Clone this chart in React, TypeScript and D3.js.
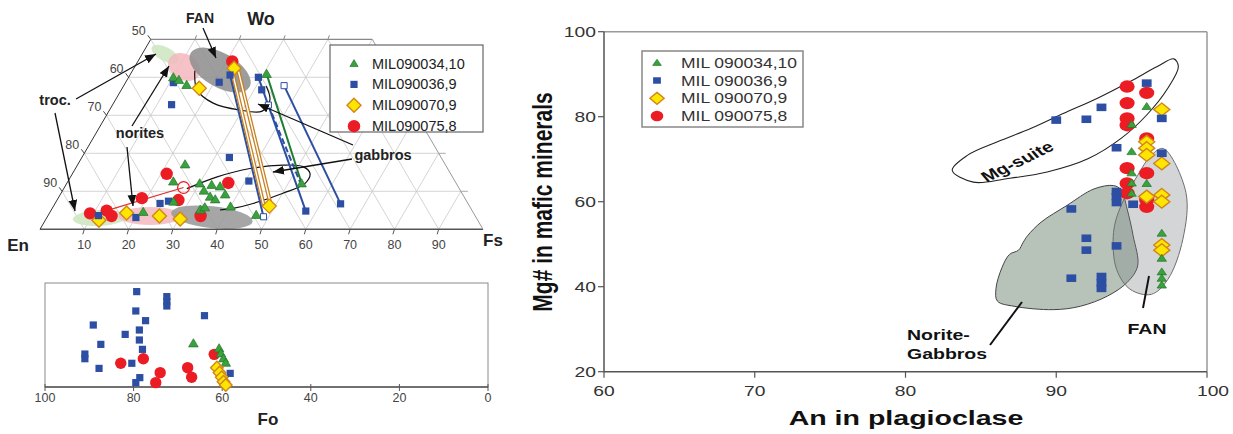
import React from 'react';
import * as d3 from 'd3';

const FONT = '"Liberation Sans", Arial, Helvetica, sans-serif';

const COL = {
  green: '#3aa23d', greenStroke: '#22742a',
  blue: '#2d4fa3',
  yellow: '#ffe600', yellowStroke: '#d0861a',
  red: '#ec1c24',
};

// legend names
const seriesLeft = ['MIL090034,10', 'MIL090036,9', 'MIL090070,9', 'MIL090075,8'];
const seriesRight = ['MIL 090034,10', 'MIL 090036,9', 'MIL 090070,9', 'MIL 090075,8'];
const seriesKind = ['tri', 'sq', 'dia', 'cir'];

// ---- pyroxene quadrilateral, points as [Wo, Fs]
const pxGreen = [[40.0, 10.1], [39.3, 11.7], [38.0, 14.1], [40.9, 30.7], [12.1, 53.0],
  [17.1, 24.2], [12.6, 23.8], [12.1, 30.0], [11.7, 32.9], [11.3, 35.0], [10.2, 31.9], [8.6, 34.1],
  [7.9, 35.6], [9.2, 37.2], [6.0, 40.0], [5.2, 33.6], [5.8, 34.3], [3.8, 46.9], [4.6, 21.0], [7.3, 26.5]];
const pxBlue = [[38.6, 10.8], [38.7, 21.1], [32.8, 13.3], [40.6, 22.6], [40.0, 29.3], [36.7, 31.7],
  [4.8, 57.6], [6.7, 64.5], [3.6, 11.4], [3.1, 20.1], [6.8, 23.7], [7.4, 25.3], [18.9, 33.3], [12.7, 40.8]];
const pxBlueOpen = [[3.3, 48.8], [32.7, 35.2], [37.8, 36.2]];
const pxYellow = [[37.1, 17.4], [42.4, 22.6], [2.4, 12.1], [4.3, 17.4], [3.5, 25.2], [2.7, 30.3], [6.1, 48.7]];
const pxRed = [[4.2, 9.2], [4.9, 12.6], [3.5, 14.4], [8.2, 18.9], [14.6, 21.3], [7.7, 27.4],
  [3.5, 34.5], [12.2, 36.4], [44.2, 21.3]];
const pxRedOpen = [[11.0, 26.9]];

// tie lines (high-Ca -> low-Ca pyroxene)
const tieBlue = [
  { from: [40.6, 22.6], to: [3.3, 48.8], dash: false },
  { from: [40.0, 29.3], to: [4.8, 57.6], dash: false },
  { from: [32.7, 35.2], to: [12.4, 52.5], dash: true },
  { from: [37.8, 36.2], to: [6.7, 64.5], dash: false },
];
const tieGreen = [{ from: [40.9, 30.7], to: [12.1, 53.0] }];
const tieYellow = [{ from: [43.0, 21.6], to: [6.1, 47.5] }, { from: [43.0, 23.0], to: [6.4, 48.9] }];
const tieRed = [{ from: [4.9, 12.6], to: [11.0, 26.9] }];

// lithology fields [Wo, Fs] centres
const pxFields = [
  { c: [46.1, 5.2], rx: 15, ry: 7, rot: 28, fill: '#cde6bf' },
  { c: [42.7, 11.2], rx: 17, ry: 13, rot: 30, fill: '#f3b9bf' },
  { c: [41.9, 19.7], rx: 34, ry: 17, rot: 30, fill: '#8f8f8f' },
  { c: [3.0, 12.0], rx: 27, ry: 8, rot: -3, fill: '#cde6bf' },
  { c: [3.5, 23.1], rx: 32, ry: 9, rot: 0, fill: '#f3b9bf' },
  { c: [3.2, 37.2], rx: 41, ry: 11, rot: 6, fill: '#9a9a9a' },
];
const gabbroUpper = [[41.7, 14.1], [36.7, 17.1], [33.2, 22.5], [31.4, 29.4], [31.1, 34.6], [34.0, 34.9], [37.7, 32.2]];
const gabbroLower = [[10.7, 27.8], [13.8, 33.1], [16.0, 39.4], [16.9, 46.4], [16.5, 51.1], [14.7, 53.6],
  [12.1, 53.8], [9.5, 50.1], [6.8, 44.7], [5.5, 40.8], [5.1, 38.1]];

const woLevels = [10, 20, 30, 40];
const fsTicks = [10, 20, 30, 40, 50, 60, 70, 80, 90];
const leftTickLabels = [50, 60, 70, 80, 90];

// ---- olivine, [Fo, n]
const olBlue = [[79.3, 91.7], [72.5, 86.9], [72.5, 82.1], [72.5, 77.9], [79.5, 73.1], [64.0, 68.6], [77.3, 63.8],
  [89.1, 59.6], [78.7, 54.8], [81.9, 50.6], [78.7, 45.2], [87.4, 41.0], [78.0, 36.2], [91.0, 31.7], [91.0, 27.2],
  [87.8, 17.9], [80.4, 22.8], [78.6, 9.0], [79.5, 4.2], [58.2, 13.1]];
const olRed = [[82.9, 22.8], [77.8, 27.2], [74.0, 13.8], [75.0, 4.2], [67.8, 18.6], [66.9, 9.3], [61.8, 31.4]];
const olGreen = [[66.5, 42.0], [60.7, 37.2], [60.3, 32.4], [59.7, 27.6], [59.2, 23.4]];
const olYellow = [[61.2, 18.6], [60.6, 13.8], [60.1, 9.3], [59.7, 5.1], [59.2, 1.9]];
const foTicks = [100, 80, 60, 40, 20, 0];

// ---- An vs Mg#
const anBlue = [[90.0, 79.2], [92.0, 79.4], [93.0, 82.2], [96.0, 87.9], [97.0, 79.6], [94.0, 72.7], [97.0, 71.4],
  [94.0, 62.4], [94.0, 61.2], [94.0, 59.8], [95.1, 59.4], [91.0, 58.3], [92.0, 51.4], [92.0, 48.6], [94.0, 49.6],
  [91.0, 42.0], [93.0, 42.4], [93.0, 40.9], [93.0, 39.6]];
const anRed = [[94.7, 87.1], [94.7, 83.2], [94.7, 79.6], [94.7, 78.0], [94.7, 67.9], [94.7, 64.3], [94.7, 62.0],
  [96.0, 85.6], [96.0, 74.9], [96.0, 66.7], [96.0, 60.4], [96.0, 58.8]];
const anYellow = [[97.0, 81.7], [97.0, 69.0], [97.0, 61.6], [97.0, 60.0], [97.0, 49.8], [97.0, 48.6],
  [96.0, 74.1], [96.0, 72.6], [96.0, 71.0], [96.0, 61.2]];
const anGreen = [[96.0, 82.4], [96.0, 64.3], [95.0, 78.2], [95.0, 71.8], [95.0, 66.8], [95.0, 64.4], [95.0, 62.0],
  [97.0, 52.6], [97.0, 46.7], [97.0, 43.5], [97.0, 42.0], [97.0, 40.4]];
const mgSuite = [[83.1, 67.4], [84.1, 70.9], [86.1, 74.1], [88.3, 77.2], [90.5, 80.8], [92.7, 84.3], [94.9, 88.3],
  [96.7, 91.8], [97.8, 93.6], [98.1, 91.8], [97.4, 86.7], [96.0, 80.4], [94.3, 74.9], [92.1, 70.1], [89.4, 67.0],
  [86.7, 65.4], [84.5, 64.6]];
const noriteGabbro = [[93.8, 63.8], [92.5, 63.0], [90.7, 59.1], [89.0, 55.2], [88.1, 52.0], [87.8, 50.4], [87.5, 48.6],
  [86.9, 47.6], [86.4, 44.5], [86.0, 39.5], [86.1, 36.6], [87.2, 35.4], [89.8, 34.6], [91.6, 35.4], [93.4, 37.8],
  [94.7, 41.0], [95.4, 44.9], [95.1, 52.0], [94.7, 58.3], [94.3, 62.8]];
const fanField = [[97.1, 72.5], [98.6, 62.2], [98.4, 51.2], [97.4, 41.7], [96.3, 38.2], [94.9, 39.4], [94.0, 44.1],
  [93.8, 52.8], [94.3, 59.1], [95.4, 66.2], [96.3, 70.9]];
const anTicks = [60, 70, 80, 90, 100];
const mgTicks = [20, 40, 60, 80, 100];

// ---------- helpers
function Marker({ kind, x, y, s = 1, sx = 1, open = false }) {
  const t = `translate(${x},${y}) scale(${s * sx},${s})`;
  const ve = 'non-scaling-stroke';
  if (kind === 'tri') return <path transform={t} d="M0,-4.6L4.8,3.6L-4.8,3.6Z" fill={COL.green} stroke={COL.greenStroke} strokeWidth={0.7} vectorEffect={ve} />;
  if (kind === 'sq') return <rect transform={t} x={-3.6} y={-3.6} width={7.2} height={7.2} fill={open ? '#fff' : COL.blue} stroke={COL.blue} strokeWidth={open ? 1 : 0} vectorEffect={ve} />;
  if (kind === 'dia') return <path transform={t} d="M0,-7L7,0L0,7L-7,0Z" fill={COL.yellow} stroke={COL.yellowStroke} strokeWidth={1.4} vectorEffect={ve} />;
  return <circle transform={t} r={6.2} fill={open ? 'none' : COL.red} stroke={COL.red} strokeWidth={open ? 1.3 : 0} vectorEffect={ve} />;
}

function Txt({ x, y, sx = 1, rot = 0, size = 14, weight = 'normal', anchor = 'start', fill = '#222', children }) {
  return (
    <text transform={`translate(${x},${y}) scale(${sx},1)${rot ? ` rotate(${rot})` : ''}`}
      fontFamily={FONT} fontSize={size} fontWeight={weight} textAnchor={anchor} fill={fill}>{children}</text>
  );
}

// ternary projection
const tX = d3.scaleLinear().domain([0, 100]).range([40, 483]);
const tY = d3.scaleLinear().domain([0, 50]).range([229.3, 39.3]);
const tern = (wo, fs) => [tX(fs + wo / 2), tY(wo)];

// olivine
const oX = d3.scaleLinear().domain([100, 0]).range([45, 488]);
const oY = d3.scaleLinear().domain([0, 100]).range([387, 283]);

// An / Mg#
const aX = d3.scaleLinear().domain([60, 100]).range([604, 1207]);
const aY = d3.scaleLinear().domain([20, 100]).range([371.7, 31.7]);
const RS = 1.33; // horizontal stretch of the right panel

const Arrow = ({ x1, y1, x2, y2 }) => (
  <line x1={x1} y1={y1} x2={x2} y2={y2} stroke="#111" strokeWidth={1.3} markerEnd="url(#arr)" />
);

function Ternary() {
  const seg = (a, b, k, st) => {
    const [x1, y1] = tern(a[0], a[1]);
    const [x2, y2] = tern(b[0], b[1]);
    return <line key={k} x1={x1} y1={y1} x2={x2} y2={y2} {...st} />;
  };
  const grid = [];
  woLevels.forEach(w => grid.push(seg([w, 0], [w, 100 - w], 'w' + w, {})));
  fsTicks.forEach(f => grid.push(seg([0, f], [Math.min(50, 100 - f), f], 'f' + f, {})));
  fsTicks.forEach(e => {
    const wEnd = Math.min(50, 100 - e);
    grid.push(seg([0, 100 - e], [wEnd, 100 - e - wEnd], 'e' + e, {}));
  });
  const curve = d3.line().x(d => tern(d[0], d[1])[0]).y(d => tern(d[0], d[1])[1]).curve(d3.curveCatmullRom.alpha(0.5));

  const tieLine = (t, k, color, extra = {}) => seg(t.from, t.to, k, { stroke: color, strokeWidth: 2, ...extra });

  return (
    <g>
      <g stroke="#c9c9c9" strokeWidth={0.8}>{grid}</g>
      {pxFields.map((f, i) => {
        const [x, y] = tern(f.c[0], f.c[1]);
        return <ellipse key={i} cx={x} cy={y} rx={f.rx} ry={f.ry} transform={`rotate(${f.rot},${x},${y})`} fill={f.fill} opacity={0.88} />;
      })}
      {/* frame */}
      {seg([0, 0], [0, 100], 'b', { stroke: '#555', strokeWidth: 1.6 })}
      {seg([0, 0], [50, 0], 'l', { stroke: '#333', strokeWidth: 1 })}
      {seg([50, 0], [50, 50], 't', { stroke: '#888', strokeWidth: 1.2 })}
      {seg([0, 100], [50, 50], 'r', { stroke: '#999', strokeWidth: 1 })}
      {/* ticks */}
      {fsTicks.map(f => { const [x, y] = tern(0, f); return <line key={'bt' + f} x1={x} y1={y} x2={x - 1.5} y2={y + 5} stroke="#555" />; })}
      {[10, 20, 30, 40, 50].map(w => { const [x, y] = tern(w, 0); return <line key={'lt' + w} x1={x} y1={y} x2={x - 3} y2={y - 4} stroke="#444" />; })}
      {woLevels.map(w => { const [x, y] = tern(w, 100 - w); return <line key={'rt' + w} x1={x} y1={y} x2={x + 7} y2={y} stroke="#aaa" />; })}
      {[10, 20, 30, 40].map(f => { const [x, y] = tern(50, f); return <line key={'tt' + f} x1={x} y1={y} x2={x + 1.5} y2={y - 4} stroke="#888" />; })}

      <path d={curve(gabbroUpper)} fill="none" stroke="#111" strokeWidth={1.2} />
      <path d={curve(gabbroLower)} fill="none" stroke="#111" strokeWidth={1.2} />

      {tieBlue.map((t, i) => tieLine(t, 'tb' + i, COL.blue, t.dash ? { strokeDasharray: '6,3' } : {}))}
      {tieGreen.map((t, i) => tieLine(t, 'tg' + i, '#1f7d32'))}
      {tieYellow.map((t, i) => tieLine(t, 'ty' + i, '#c8811e', { strokeWidth: 4 }))}
      {tieYellow.map((t, i) => tieLine(t, 'tyw' + i, '#fff', { strokeWidth: 1.4 }))}
      {tieRed.map((t, i) => tieLine(t, 'tr' + i, '#e03030', { strokeWidth: 1.2 }))}

      {pxRed.map((d, i) => { const [x, y] = tern(d[0], d[1]); return <Marker key={'r' + i} kind="cir" x={x} y={y} />; })}
      {pxRedOpen.map((d, i) => { const [x, y] = tern(d[0], d[1]); return <Marker key={'ro' + i} kind="cir" x={x} y={y} open s={0.95} />; })}
      {pxYellow.map((d, i) => { const [x, y] = tern(d[0], d[1]); return <Marker key={'y' + i} kind="dia" x={x} y={y} />; })}
      {pxBlue.map((d, i) => { const [x, y] = tern(d[0], d[1]); return <Marker key={'b' + i} kind="sq" x={x} y={y} />; })}
      {pxBlueOpen.map((d, i) => { const [x, y] = tern(d[0], d[1]); return <Marker key={'bo' + i} kind="sq" x={x} y={y} open s={0.85} />; })}
      {pxGreen.map((d, i) => { const [x, y] = tern(d[0], d[1]); return <Marker key={'g' + i} kind="tri" x={x} y={y} />; })}

      {/* axis labels */}
      {leftTickLabels.map(v => { const [x, y] = tern(100 - v, 0); return <Txt key={'ll' + v} x={x - 12} y={y - 4} size={12.5} anchor="middle" fill="#444">{v}</Txt>; })}
      {fsTicks.map(f => { const [x, y] = tern(0, f); return <Txt key={'bl' + f} x={x} y={y + 20} size={12.5} anchor="middle" fill="#444">{f}</Txt>; })}
      <Txt x={18} y={251} size={17} weight="bold" anchor="middle">En</Txt>
      <Txt x={493} y={246} size={17} weight="bold" anchor="middle">Fs</Txt>
      <Txt x={261} y={25} size={18} weight="bold" anchor="middle">Wo</Txt>
      <Txt x={200} y={23} size={14} weight="bold" anchor="middle">FAN</Txt>
      <Txt x={55} y={105} size={14.5} weight="bold" anchor="middle">troc.</Txt>
      <Txt x={140} y={138} size={14.5} weight="bold" anchor="middle">norites</Txt>
      <Txt x={383} y={160} size={14.5} weight="bold" anchor="middle">gabbros</Txt>

      <Arrow x1={203} y1={28} x2={216} y2={58} />
      <Arrow x1={76} y1={99} x2={156} y2={54} />
      <Arrow x1={55} y1={113} x2={75} y2={211} />
      <Arrow x1={132} y1={126} x2={169} y2={66} />
      <Arrow x1={127} y1={147} x2={133} y2={206} />
      <Arrow x1={353} y1={145} x2={258} y2={104} />
      <Arrow x1={352} y1={159} x2={273} y2={172} />

      {/* legend */}
      <rect x={330} y={45} width={153} height={87} fill="#fff" stroke="#666" strokeWidth={1.2} />
      {seriesLeft.map((s, i) => (
        <g key={s}>
          <Marker kind={seriesKind[i]} x={354} y={63.5 + i * 20.9} s={seriesKind[i] === 'tri' ? 0.85 : 1} />
          <Txt x={372} y={68.5 + i * 20.9} size={14.5} fill="#222">{s}</Txt>
        </g>
      ))}
    </g>
  );
}

function Olivine() {
  return (
    <g>
      <rect x={45} y={283} width={443} height={104} fill="#fff" stroke="#8a8a8a" strokeWidth={1} />
      <line x1={45} x2={488} y1={387} y2={387} stroke="#555" strokeWidth={1.5} />
      {foTicks.map(t => (
        <g key={t}>
          <line x1={oX(t)} x2={oX(t)} y1={384} y2={391} stroke="#555" />
          <Txt x={oX(t)} y={402} size={12.5} anchor="middle" fill="#444">{t}</Txt>
        </g>
      ))}
      <Txt x={268} y={425} size={17} weight="bold" anchor="middle">Fo</Txt>
      {olBlue.map((d, i) => <Marker key={'b' + i} kind="sq" x={oX(d[0])} y={oY(d[1])} />)}
      {olRed.map((d, i) => <Marker key={'r' + i} kind="cir" x={oX(d[0])} y={oY(d[1])} s={0.92} />)}
      {olGreen.map((d, i) => <Marker key={'g' + i} kind="tri" x={oX(d[0])} y={oY(d[1])} />)}
      {olYellow.map((d, i) => <Marker key={'y' + i} kind="dia" x={oX(d[0])} y={oY(d[1])} s={0.9} />)}
    </g>
  );
}

function AnMg() {
  const area = d3.line().x(d => aX(d[0])).y(d => aY(d[1])).curve(d3.curveCatmullRomClosed.alpha(0.5));
  const [l, r] = aX.range();
  const [b, t] = aY.range();
  return (
    <g>
      <line x1={l} x2={r} y1={t} y2={t} stroke="#999" strokeWidth={1.5} />
      <line x1={r} x2={r} y1={t} y2={b} stroke="#999" strokeWidth={1.5} />
      <path d={area(noriteGabbro)} fill="#b7c3b9" stroke="#444" strokeWidth={1} />
      <path d={area(fanField)} fill="rgb(125,128,132)" fillOpacity={0.33} stroke="#6e6e6e" strokeWidth={1} />
      <path d={area(mgSuite)} fill="none" stroke="#222" strokeWidth={1.1} />
      <line x1={l} x2={l} y1={t} y2={b} stroke="#555" strokeWidth={1.5} />
      <line x1={l} x2={r} y1={b} y2={b} stroke="#555" strokeWidth={1.5} />
      {mgTicks.map(v => (
        <g key={'y' + v}>
          <line x1={l - 6} x2={l} y1={aY(v)} y2={aY(v)} stroke="#555" strokeWidth={1.2} />
          <Txt x={596} y={aY(v) + 5} sx={RS} size={14.5} anchor="end" fill="#333">{v}</Txt>
        </g>
      ))}
      {anTicks.map(v => (
        <g key={'x' + v}>
          <line x1={aX(v)} x2={aX(v)} y1={b} y2={b + 6} stroke="#555" strokeWidth={1.2} />
          <Txt x={aX(v) + (v === 100 ? 6 : 0)} y={396} sx={RS} size={14.5} anchor="middle" fill="#333">{v}</Txt>
        </g>
      ))}
      <Txt x={906} y={425} sx={1.36} size={21} weight="bold" anchor="middle" fill="#111">An in plagioclase</Txt>
      <Txt x={552} y={202} sx={1.3} rot={-90} size={21} weight="bold" anchor="middle" fill="#111">Mg# in mafic minerals</Txt>

      {anRed.map((d, i) => <Marker key={'r' + i} kind="cir" x={aX(d[0])} y={aY(d[1])} sx={1.22} />)}
      {anYellow.map((d, i) => <Marker key={'yy' + i} kind="dia" x={aX(d[0])} y={aY(d[1])} sx={1.25} s={0.92} />)}
      {anBlue.map((d, i) => <Marker key={'b' + i} kind="sq" x={aX(d[0])} y={aY(d[1])} sx={1.3} s={1.05} />)}
      {anGreen.map((d, i) => <Marker key={'g' + i} kind="tri" x={aX(d[0])} y={aY(d[1])} sx={1.15} s={0.85} />)}

      <Txt x={1021} y={166} sx={RS} rot={-33} size={15} weight="bold" anchor="middle" fill="#111">Mg-suite</Txt>
      <Txt x={907} y={340} sx={1.3} size={15} weight="bold" fill="#111">Norite-</Txt>
      <Txt x={907} y={359} sx={1.3} size={15} weight="bold" fill="#111">Gabbros</Txt>
      <Txt x={1147} y={334} sx={1.3} size={15} weight="bold" anchor="middle" fill="#111">FAN</Txt>
      <line x1={990} y1={345} x2={1022} y2={302} stroke="#111" strokeWidth={2} />
      <line x1={1143} y1={308} x2={1149} y2={276} stroke="#111" strokeWidth={2} />

      <rect x={642} y={51} width={161} height={76} fill="#fff" stroke="#888" strokeWidth={1.5} />
      {seriesRight.map((s, i) => (
        <g key={s}>
          <Marker kind={seriesKind[i]} x={657} y={62.7 + i * 17.8} sx={1.2} s={seriesKind[i] === 'tri' ? 0.75 : seriesKind[i] === 'sq' ? 0.9 : 0.85} />
          <Txt x={681} y={67.7 + i * 17.8} sx={1.25} size={14} fill="#333">{s}</Txt>
        </g>
      ))}
    </g>
  );
}

export default function App() {
  return (
    <svg width={1233} height={434} style={{ position: 'absolute', left: 0, top: 0, background: '#fff' }}>
      <defs>
        <marker id="arr" viewBox="0 0 10 8" refX={10} refY={4} markerWidth={11} markerHeight={9} orient="auto" markerUnits="userSpaceOnUse">
          <path d="M0,0L10,4L0,8Z" fill="#111" />
        </marker>
      </defs>
      <rect width={1233} height={434} fill="#fff" />
      <Ternary />
      <Olivine />
      <AnMg />
    </svg>
  );
}
